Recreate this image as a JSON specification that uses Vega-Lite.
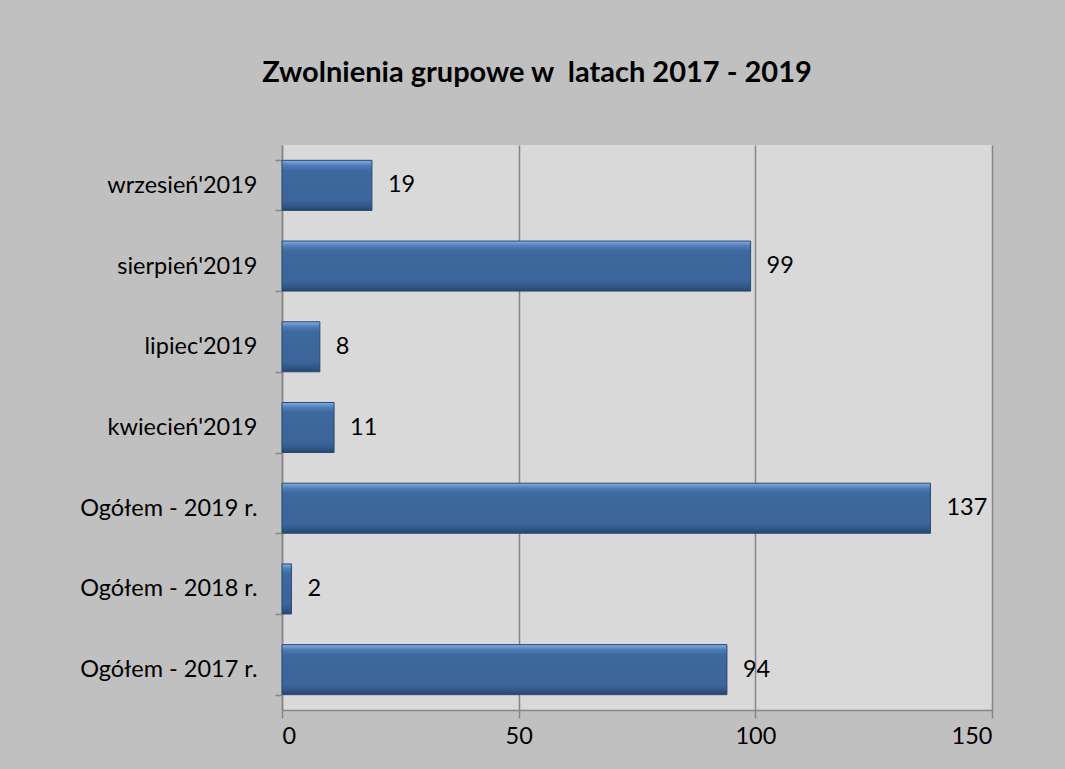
{
  "$schema": "https://vega.github.io/schema/vega-lite/v6.json",
  "autosize": {"type": "none"},
  "width": 710,
  "height": 565,
  "padding": {"left": 282, "top": 145, "right": 73, "bottom": 59},
  "background": "#c0c0c0",
  "config": {
    "view": {"fill": "#d9d9d9", "stroke": null},
    "font": "Lato"
  },
  "title": {
    "text": "Zwolnienia grupowe w\u00a0 latach 2017 - 2019",
    "fontSize": 29,
    "font": "Lato",
    "fontWeight": "bold",
    "color": "#000000",
    "anchor": "middle",
    "dx": -100,
    "offset": 45
  },
  "data": {
    "values": [
      {"kategoria": "wrzesień'2019", "liczba": 19},
      {"kategoria": "sierpień'2019", "liczba": 99},
      {"kategoria": "lipiec'2019", "liczba": 8},
      {"kategoria": "kwiecień'2019", "liczba": 11},
      {"kategoria": "Ogółem - 2019 r.", "liczba": 137},
      {"kategoria": "Ogółem - 2018 r.", "liczba": 2},
      {"kategoria": "Ogółem - 2017 r.", "liczba": 94}
    ]
  },
  "encoding": {
    "y": {
      "field": "kategoria",
      "type": "nominal",
      "sort": null,
      "scale": {"paddingInner": 0.38, "paddingOuter": 0.19},
      "axis": {
        "title": null,
        "domainColor": "#868686",
        "domainWidth": 1.5,
        "tickColor": "#868686",
        "tickWidth": 1.5,
        "tickSize": 7,
        "tickBand": "extent",
        "labelFontSize": 23.5,
        "labelColor": "#000000",
        "labelPadding": 18,
        "labelFont": "Lato",
        "labelLimit": 300
      }
    },
    "x": {
      "field": "liczba",
      "type": "quantitative",
      "scale": {"domain": [0, 150], "nice": false},
      "axis": {
        "title": null,
        "values": [0, 50, 100, 150],
        "grid": true,
        "gridColor": "#868686",
        "gridWidth": 1.5,
        "domainColor": "#868686",
        "domainWidth": 1.5,
        "tickColor": "#868686",
        "tickWidth": 1.5,
        "tickSize": 8,
        "labelFontSize": 23.5,
        "labelColor": "#000000",
        "labelPadding": 6,
        "labelFont": "Lato"
      }
    }
  },
  "layer": [
    {
      "mark": {
        "type": "bar",
        "stroke": "#2a4a74",
        "strokeWidth": 1,
        "color": {
          "gradient": "linear",
          "x1": 0, "y1": 0, "x2": 0, "y2": 1,
          "stops": [
            {"offset": 0, "color": "#86aee2"},
            {"offset": 0.1, "color": "#4f7db8"},
            {"offset": 0.2, "color": "#3d699f"},
            {"offset": 0.8, "color": "#3b659b"},
            {"offset": 0.9, "color": "#33598a"},
            {"offset": 1, "color": "#27456d"}
          ]
        }
      }
    },
    {
      "mark": {
        "type": "text",
        "align": "left",
        "baseline": "middle",
        "dx": 16,
        "fontSize": 23.5,
        "font": "Lato",
        "color": "#000000"
      },
      "encoding": {"text": {"field": "liczba", "type": "quantitative"}}
    }
  ]
}
